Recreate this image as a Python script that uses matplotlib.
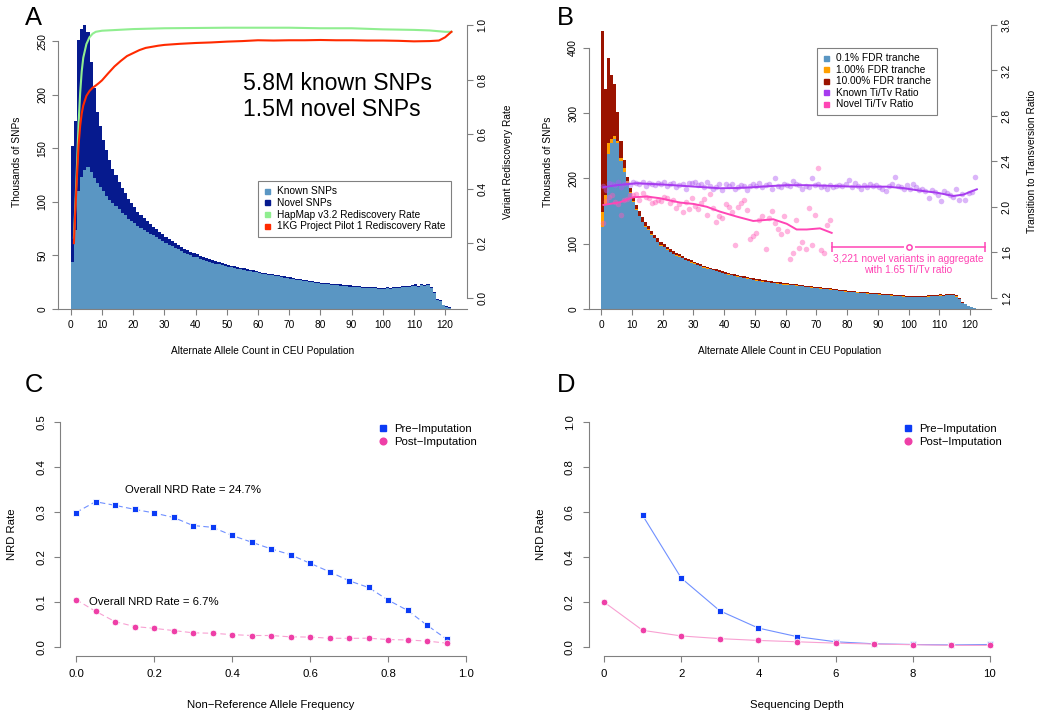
import numpy as np
import matplotlib
matplotlib.use("Agg")
import matplotlib.pyplot as plt
from matplotlib.lines import Line2D
from matplotlib.ticker import FormatStrFormatter

plt.rcParams["font.family"] = ["Liberation Sans", "DejaVu Sans"]

W, H = 1050, 719
GRAY = "#808080"

# ---- panel A: SNP counts per alternate allele count (thousands) ----
A_ALL = [152, 176, 251, 262, 265, 259, 231, 207, 184, 171,
         158, 149, 139, 131, 125, 119, 113, 108, 103, 99,
         95, 91, 88, 85, 82, 79, 77, 74.5, 72, 70,
         67.5, 65.5, 63.5, 61.5, 60, 58, 56.5, 55, 53.5, 52,
         51, 49.5, 48.5, 47.5, 46.5, 45.5, 44.5, 43.5, 43, 42,
         41, 40.5, 40, 39, 38.5, 38, 37, 36.5, 36, 35.5,
         35, 34, 33.5, 33, 32.5, 32, 31.5, 31, 30.5, 30,
         29.5, 29, 28.5, 28, 27.5, 27, 26.5, 26, 25.5, 25,
         24.7, 24.4, 24.1, 23.8, 23.5, 23.2, 22.9, 22.6, 22.3, 22,
         21.7, 21.5, 21.2, 21, 20.7, 20.5, 20.3, 20.4, 20, 19.8,
         19.9, 20.3, 19.8, 20.6, 20.8, 20.6, 21.3, 21.6, 21.9, 22.4,
         23, 21.8, 23.4, 22.5, 23.8, 20.5, 16, 9, 8, 4, 2.5, 1.5]
A_KNOWN = [44, 74, 110, 123, 130, 133, 128, 122, 118, 114,
           110, 106, 102, 99, 96, 93, 90, 87.5, 84.5, 82.5,
           80, 77.5, 76, 74, 72, 70, 68.7, 66.9, 65, 63.6,
           61.6, 60.1, 58.5, 56.9, 55.7, 54, 52.8, 51.6, 50.3, 49,
           48.2, 46.9, 46, 45.2, 44.3, 43.4, 42.5, 41.6, 41.2, 40.3,
           39.4, 38.9, 38.5, 37.5, 37.1, 36.6, 35.7, 35.2, 34.8, 34.3,
           33.8, 32.9, 32.4, 31.9, 31.4, 30.9, 30.4, 29.9, 29.4, 28.9,
           28.4, 27.9, 27.4, 26.9, 26.4, 25.9, 25.4, 24.9, 24.4, 23.9,
           23.6, 23.3, 23, 22.7, 22.4, 22.1, 21.8, 21.5, 21.2, 20.9,
           20.6, 20.4, 20.1, 19.9, 19.6, 19.4, 19.2, 19.3, 18.9, 18.7,
           18.8, 19.2, 18.7, 19.5, 19.7, 19.5, 20.2, 20.5, 20.8, 21.3,
           21.9, 20.7, 22.3, 21.4, 22.7, 19.4, 15, 8.2, 7.2, 3.5, 2.1, 1.2]

HAPMAP_X = [1, 1.5, 2, 2.5, 3, 3.5, 4, 5, 6, 7, 8, 10, 15, 20, 30, 40, 50,
            60, 70, 80, 90, 100, 110, 115, 120, 122]
HAPMAP_Y = [0.22, 0.35, 0.49, 0.64, 0.75, 0.83, 0.88, 0.93, 0.955, 0.968, 0.975,
            0.979, 0.982, 0.985, 0.988, 0.989, 0.99, 0.99, 0.99, 0.988, 0.988,
            0.984, 0.982, 0.98, 0.975, 0.975]
KG_X = [1, 1.5, 2, 2.5, 3, 3.5, 4, 5, 6, 7, 8, 9, 10, 11, 12, 14, 16, 18, 20,
        22, 24, 26, 28, 30, 35, 40, 45, 50, 55, 60, 65, 70, 75, 80, 85, 90, 95,
        100, 105, 110, 115, 118, 120, 122]
KG_Y = [0.2, 0.33, 0.45, 0.56, 0.63, 0.675, 0.705, 0.74, 0.758, 0.77, 0.778,
        0.787, 0.797, 0.81, 0.823, 0.848, 0.868, 0.886, 0.897, 0.908, 0.916,
        0.92, 0.924, 0.927, 0.931, 0.934, 0.936, 0.939, 0.941, 0.944, 0.943,
        0.944, 0.944, 0.945, 0.944, 0.944, 0.943, 0.943, 0.942, 0.94, 0.941,
        0.943, 0.955, 0.975]

# ---- panel B: FDR tranches (cumulative, thousands) and Ti/Tv ----
B_10 = [426, 337, 384, 359, 345, 302, 257, 228, 202, 185,
        172, 160, 150, 141, 134, 127, 120, 114, 108, 103,
        99, 95, 91.5, 88.5, 86, 83.5, 81, 78.5, 76.5, 74.5,
        72.5, 70.5, 68.5, 66.5, 65, 63.5, 62, 60.5, 59, 57.5,
        56, 55, 54, 53, 52, 51, 50, 49, 48, 47,
        46, 45.3, 44.6, 43.9, 43.2, 42.5, 41.8, 41.1, 40.6, 40,
        39.4, 38.8, 38.2, 37.6, 37, 36.4, 35.8, 35.2, 34.6, 34,
        33.5, 33, 32.5, 32, 31.5, 31, 30.5, 29.5, 29, 28.5,
        28, 27.5, 27.2, 26.8, 26.4, 26, 25.6, 25.2, 24.8, 24.4,
        24, 23.6, 23.2, 22.8, 22.4, 22, 21.6, 21.2, 20.8, 20.5,
        20.4, 20.3, 20.2, 20.5, 20.3, 20.6, 20.8, 21.2, 21.5, 21.8,
        22.5, 21.8, 23, 22.6, 23.2, 21, 16.5, 10, 8, 5, 3, 1.5]
B_1 = [149, 175, 254, 261, 265, 258, 232, 216, 196, 179,
       165, 153, 143, 134, 127, 122, 115, 109, 103, 98,
       95.2, 91.2, 87.7, 84.7, 82.2, 80.5, 78, 75.5, 73.5, 71.5,
       70, 68, 66, 64, 62.5, 61, 59.5, 58, 56.5, 55,
       54, 53, 52, 51, 50, 49, 48, 47, 46, 45,
       44, 43.3, 42.6, 41.9, 41.2, 40.5, 39.8, 39.1, 38.6, 38,
       37.9, 37.3, 36.7, 36.1, 35.5, 34.9, 34.3, 33.7, 33.1, 32.5,
       32, 31.5, 31, 30.5, 30, 29.5, 29, 28, 27.5, 27,
       26.5, 26, 25.7, 25.3, 24.9, 24.5, 24.1, 23.7, 23.3, 22.9,
       22.5, 22.1, 21.7, 21.3, 20.9, 20.5, 20.1, 19.7, 19.3, 19,
       18.9, 18.8, 18.7, 19, 18.8, 19.1, 19.3, 19.7, 20, 20.3,
       21, 20.3, 21.5, 21.1, 21.7, 19.5, 15.2, 9, 7.2, 4.4, 2.6, 1.2]
B_01 = [126, 160, 238, 254, 260, 254, 226, 210, 193, 177,
        164, 152, 142, 133, 126, 121, 114, 108, 102, 97,
        94.7, 90.7, 87.2, 84.2, 81.7, 80, 77.5, 75, 73, 71,
        69.5, 67.5, 65.5, 63.5, 62, 60.5, 59, 57.5, 56, 54.5,
        53.5, 52.5, 51.5, 50.5, 49.5, 48.5, 47.5, 46.5, 45.5, 44.5,
        43.5, 42.8, 42.1, 41.4, 40.7, 40, 39.3, 38.6, 38.1, 37.5,
        37.5, 36.9, 36.3, 35.7, 35.1, 34.5, 33.9, 33.3, 32.7, 32.1,
        31.6, 31.1, 30.6, 30.1, 29.6, 29.1, 28.6, 27.6, 27.1, 26.6,
        26.1, 25.6, 25.3, 24.9, 24.5, 24.1, 23.7, 23.3, 22.9, 22.5,
        22.1, 21.7, 21.3, 20.9, 20.5, 20.1, 19.7, 19.3, 18.9, 18.6,
        18.5, 18.4, 18.3, 18.6, 18.4, 18.7, 18.9, 19.3, 19.6, 19.9,
        20.6, 19.9, 21.1, 20.7, 21.3, 19.1, 14.9, 8.8, 7, 4.2, 2.5, 1.1]

KNOWN_TITV = [2.18, 2.15, 2.21, 2.20, 2.19, 2.22, 2.17, 2.20, 2.21, 2.19,
              2.22, 2.21, 2.20, 2.22, 2.18, 2.21, 2.20, 2.19, 2.21, 2.20,
              2.22, 2.18, 2.20, 2.21, 2.17, 2.19, 2.20, 2.16, 2.21, 2.21,
              2.22, 2.19, 2.20, 2.17, 2.22, 2.18, 2.16, 2.17, 2.20, 2.15,
              2.20, 2.18, 2.20, 2.16, 2.17, 2.19, 2.18, 2.15, 2.18, 2.20,
              2.18, 2.21, 2.17, 2.19, 2.20, 2.16, 2.25, 2.18, 2.17, 2.20,
              2.19, 2.18, 2.23, 2.20, 2.19, 2.16, 2.18, 2.17, 2.25, 2.19,
              2.20, 2.17, 2.18, 2.16, 2.19, 2.17, 2.18, 2.19, 2.18, 2.20,
              2.24, 2.17, 2.21, 2.18, 2.16, 2.19, 2.17, 2.20, 2.18, 2.19,
              2.17, 2.16, 2.14, 2.18, 2.20, 2.26, 2.18, 2.17, 2.16, 2.19,
              2.16, 2.20, 2.17, 2.15, 2.16, 2.14, 2.08, 2.15, 2.13, 2.10,
              2.05, 2.14, 2.12, 2.10, 2.09, 2.16, 2.06, 2.11, 2.06, 2.12, 2.13, 2.26]
NOVEL_TITV = [1.86, 2.05, 2.09, 2.10, 2.04, 2.02, 1.93, 2.06, 2.07, 2.10,
              2.10, 2.11, 2.06, 2.12, 2.09, 2.08, 2.03, 2.04, 2.06, 2.05,
              2.09, 2.08, 2.03, 2.06, 1.99, 2.02, 1.95, 2.04, 1.98, 2.08,
              2.01, 1.98, 2.03, 2.07, 1.93, 2.11, 1.99, 1.87, 1.92, 1.90,
              2.02, 2.00, 1.95, 1.66, 2.00, 2.03, 2.06, 1.97, 1.72, 1.74,
              1.77, 1.88, 1.92, 1.63, 1.90, 1.96, 1.86, 1.80, 1.76, 1.92,
              1.79, 1.54, 1.59, 1.88, 1.64, 1.69, 1.63, 1.99, 1.66, 1.93,
              2.34, 1.62, 1.59, 1.84, 1.88]
KNOWN_FIT_X = [0.8, 5, 11.6, 17, 22.4, 30, 38.7, 44, 49.5, 55, 60.4, 66, 71.2,
               77, 82.1, 88, 92.9, 98, 103.7, 109.2, 114.6, 117.8, 122.2]
KNOWN_FIT_Y = [2.172, 2.19, 2.207, 2.20, 2.192, 2.178, 2.163, 2.165, 2.172, 2.182,
               2.19, 2.19, 2.187, 2.182, 2.177, 2.177, 2.177, 2.165, 2.142, 2.124,
               2.095, 2.107, 2.154]
NOVEL_FIT_X = [0.8, 6.2, 10.5, 14.9, 19.2, 25.7, 30.1, 34.4, 38.7, 44.2, 49.5,
               53.9, 56, 60.4, 63.6, 66.9, 71.2, 75]
NOVEL_FIT_Y = [2.016, 2.04, 2.084, 2.09, 2.075, 2.037, 2.025, 2.0, 1.957, 1.913,
               1.875, 1.885, 1.89, 1.85, 1.80, 1.80, 1.81, 1.77]
AGG_RANGE = [75, 125]
AGG_TITV = 1.65

# ---- panels C, D: NRD rates ----
AF = [0.0, 0.05, 0.1, 0.15, 0.2, 0.25, 0.3, 0.35, 0.4, 0.45,
      0.5, 0.55, 0.6, 0.65, 0.7, 0.75, 0.8, 0.85, 0.9, 0.95]
C_PRE = [0.299, 0.323, 0.315, 0.306, 0.298, 0.288, 0.270, 0.266, 0.248, 0.233,
         0.218, 0.205, 0.186, 0.167, 0.147, 0.132, 0.104, 0.081, 0.048, 0.017]
C_POST = [0.105, 0.079, 0.056, 0.045, 0.041, 0.036, 0.031, 0.030, 0.027, 0.025,
          0.025, 0.022, 0.0215, 0.019, 0.0186, 0.019, 0.016, 0.015, 0.0126, 0.008]
DEPTH_PRE = [1, 2, 3, 4, 5, 6, 7, 8, 9, 10]
D_PRE = [0.585, 0.306, 0.160, 0.083, 0.045, 0.022, 0.013, 0.010, 0.008, 0.010]
DEPTH_POST = [0, 1, 2, 3, 4, 5, 6, 7, 8, 9, 10]
D_POST = [0.199, 0.073, 0.048, 0.036, 0.028, 0.022, 0.016, 0.012, 0.009, 0.006, 0.006]

COUNTS = np.arange(0, len(A_ALL) + 1)

fig = plt.figure(figsize=(W / 100, H / 100), dpi=100)


def place(x0, y0, x1, y1):
    return fig.add_axes([x0 / W, 1 - y1 / H, (x1 - x0) / W, (y1 - y0) / H])


def style(ax, fs, pad, spines):
    for s in ax.spines.values():
        s.set_visible(False)
    for side, bounds in spines.items():
        sp = ax.spines[side]
        sp.set_visible(True)
        sp.set_color(GRAY)
        sp.set_linewidth(0.8)
        if bounds is not None:
            sp.set_bounds(*bounds)
    ax.tick_params(length=4.3, width=0.8, color=GRAY, labelsize=fs, pad=pad)
    plt.setp(ax.get_yticklabels(), rotation=90, va="center")


def label_at(ax, xtext, xc, xy, ytext, yc, yx, fs):
    ax.set_xlabel(xtext, fontsize=fs, va="center", ha="center")
    ax.xaxis.set_label_coords(xc / W, 1 - xy / H, transform=fig.transFigure)
    ax.set_ylabel(ytext, fontsize=fs, va="center", ha="center", rotation=90)
    ax.yaxis.set_label_coords(yx / W, 1 - yc / H, transform=fig.transFigure)


def legend(ax, handles, labels, x, y, fs, frame=True, bp=0.6, ls=0.14):
    lg = ax.legend(handles, labels, loc="upper left", bbox_to_anchor=(x / W, 1 - y / H),
                   bbox_transform=fig.transFigure, borderaxespad=0, fontsize=fs,
                   frameon=frame, fancybox=False, borderpad=bp, handlelength=0.8,
                   handletextpad=0.55, labelspacing=ls)
    if frame:
        lg.get_frame().set_edgecolor(GRAY)
        lg.get_frame().set_linewidth(0.8)
        lg.get_frame().set_alpha(1)
    return lg


def sq(color, marker="s", ms=3.6):
    return Line2D([], [], ls="none", marker=marker, color=color, ms=ms)


FS1 = 7.3
FS2 = 8.2

# ================= A =================
ax = place(58, 14, 466.7, 309)
ax.stairs(A_ALL, COUNTS, fill=True, color="#061a8e", lw=0)
ax.stairs(A_KNOWN, COUNTS, fill=True, color="#5a96c3", lw=0)
ax.set_xlim(-4.1, 126.9)
ax.set_ylim(0, 275.7)
ax.set_xticks(range(0, 121, 10))
ax.set_yticks(range(0, 251, 50))
style(ax, FS1, 3.5, {"left": (0, 250), "bottom": None})
ax.text(55.2, 211, "5.8M known SNPs", fontsize=16.6, va="center", ha="left")
ax.text(55.2, 186, "1.5M novel SNPs", fontsize=16.6, va="center", ha="left")
label_at(ax, "Alternate Allele Count in CEU Population", 262.3, 350.7,
         "Thousands of SNPs", 161.5, 17, FS1)

ax2 = ax.twinx()
ax2.plot(HAPMAP_X, HAPMAP_Y, color="#90ee90", lw=1.5)
ax2.plot(KG_X, KG_Y, color="#ff2a00", lw=1.5)
ax2.set_ylim(-0.0414, 1.0403)
ax2.set_yticks(np.arange(0, 1.01, 0.2))
ax2.yaxis.set_major_formatter(FormatStrFormatter("%.1f"))
style(ax2, FS1, 3.5, {"right": (0, 1)})
ax2.set_ylabel("Variant Rediscovery Rate", fontsize=FS1, va="center", ha="center", rotation=90)
ax2.yaxis.set_label_coords(508 / W, 1 - 161.5 / H, transform=fig.transFigure)
legend(ax2, [sq("#5a96c3"), sq("#061a8e"), sq("#90ee90"), sq("#ff2a00")],
       ["Known SNPs", "Novel SNPs", "HapMap v3.2 Rediscovery Rate",
        "1KG Project Pilot 1 Rediscovery Rate"], 257.7, 180.7, FS1, bp=0.55, ls=0.17)

# ================= B =================
bx = place(589, 14, 991, 309)
bx.stairs(B_10, COUNTS, fill=True, color="#9b1300", lw=0)
bx.stairs(B_1, COUNTS, fill=True, color="#ffa000", lw=0)
bx.stairs(B_01, COUNTS, fill=True, color="#5a96c3", lw=0)
bx.set_xlim(-3.9, 126.8)
bx.set_ylim(0, 451.8)
bx.set_xticks(range(0, 121, 10))
bx.set_yticks(range(0, 401, 100))
style(bx, FS1, 3.5, {"left": (0, 400), "bottom": None})
label_at(bx, "Alternate Allele Count in CEU Population", 790, 350.7,
         "Thousands of SNPs", 161.5, 548.3, FS1)

bx2 = bx.twinx()
known_x = np.arange(1, len(KNOWN_TITV) + 1) - 0.5
novel_x = np.arange(1, len(NOVEL_TITV) + 1) - 0.5
bx2.plot(known_x, KNOWN_TITV, "o", color="#b05cf2", alpha=0.45, ms=4, mew=0)
bx2.plot(novel_x, NOVEL_TITV, "o", color="#ff5ab8", alpha=0.45, ms=4, mew=0)
bx2.plot(KNOWN_FIT_X, KNOWN_FIT_Y, color="#a63bef", lw=1.4)
bx2.plot(NOVEL_FIT_X, NOVEL_FIT_Y, color="#ff45b5", lw=1.4)
PINK = "#ff45b5"
bx2.plot(AGG_RANGE, [AGG_TITV] * 2, color=PINK, lw=1.1)
bx2.plot(AGG_RANGE, [AGG_TITV] * 2, ls="none", marker="|", ms=7, mew=1.1, color=PINK)
mid = np.mean(AGG_RANGE)
bx2.plot([mid], [AGG_TITV], "o", ms=7, mfc="white", mec="white")
bx2.plot([mid], [AGG_TITV], "o", ms=3.8, mfc="white", mec=PINK, mew=1.1)
bx2.text(mid, 1.54, "3,221 novel variants in aggregate", color=PINK, fontsize=FS1,
         ha="center", va="center")
bx2.text(mid, 1.44, "with 1.65 Ti/Tv ratio", color=PINK, fontsize=FS1,
         ha="center", va="center")
bx2.set_ylim(1.1, 3.697)
bx2.set_yticks(np.arange(1.2, 3.61, 0.4))
bx2.yaxis.set_major_formatter(FormatStrFormatter("%.1f"))
style(bx2, FS1, 3.5, {"right": (1.2, 3.6)})
bx2.set_ylabel("Transition to Transversion Ratio", fontsize=FS1, va="center",
               ha="center", rotation=90)
bx2.yaxis.set_label_coords(1031.7 / W, 1 - 161.5 / H, transform=fig.transFigure)
legend(bx2, [sq("#5a96c3"), sq("#ffa000"), sq("#9b1300"), sq("#a63bef"), sq(PINK)],
       ["0.1% FDR tranche", "1.00% FDR tranche", "10.00% FDR tranche",
        "Known Ti/Tv Ratio", "Novel Ti/Tv Ratio"], 816.7, 47.7, FS1, bp=0.55, ls=0.15)

# ================= C =================
BLUE, BLUE_L = "#0b3bf5", "#7090ff"
PNK, PNK_L = "#ee3fa7", "#f8a0d2"
cx = place(60.4, 413.3, 481.6, 655.7)
cx.plot(AF, C_PRE, color=BLUE_L, lw=0.8, dashes=(5, 3), zorder=2)
cx.plot(AF, C_POST, color=PNK_L, lw=0.8, dashes=(5, 3), zorder=2)
cx.plot(AF, C_PRE, "s", color=BLUE, ms=4.6, mec="white", mew=0.6, zorder=3)
cx.plot(AF, C_POST, "o", color=PNK, ms=4.8, mec="white", mew=0.6, zorder=3)
cx.set_xlim(-0.04, 1.04)
cx.set_ylim(-0.02, 0.52)
cx.set_xticks(np.arange(0, 1.01, 0.2))
cx.set_yticks(np.arange(0, 0.51, 0.1))
cx.xaxis.set_major_formatter(FormatStrFormatter("%.1f"))
cx.yaxis.set_major_formatter(FormatStrFormatter("%.1f"))
style(cx, FS2, 5.5, {"left": (0, 0.5), "bottom": (0, 1)})
cx.text(0.30, 0.349, "Overall NRD Rate = 24.7%", fontsize=FS2, ha="center", va="center")
cx.text(0.20, 0.099, "Overall NRD Rate = 6.7%", fontsize=FS2, ha="center", va="center")
label_at(cx, "Non\u2212Reference Allele Frequency", 271, 705, "NRD Rate", 534.5, 11.7, FS2)
legend(cx, [sq(BLUE, "s", 4.6), sq(PNK, "o", 4.8)],
       ["Pre\u2212Imputation", "Post\u2212Imputation"], 378.8, 423.5, FS2,
       frame=False, bp=0, ls=0.33)

# ================= D =================
dx = place(588.6, 413.3, 1005.4, 655.7)
dx.plot(DEPTH_PRE, D_PRE, color=BLUE_L, lw=0.8, zorder=2)
dx.plot(DEPTH_POST, D_POST, color=PNK_L, lw=0.8, zorder=2)
dx.plot(DEPTH_PRE, D_PRE, "s", color=BLUE, ms=4.6, mec="white", mew=0.6, zorder=3)
dx.plot(DEPTH_POST, D_POST, "o", color=PNK, ms=4.8, mec="white", mew=0.6, zorder=3)
dx.set_xlim(-0.4, 10.4)
dx.set_ylim(-0.04, 1.04)
dx.set_xticks(range(0, 11, 2))
dx.set_yticks(np.arange(0, 1.01, 0.2))
dx.yaxis.set_major_formatter(FormatStrFormatter("%.1f"))
style(dx, FS2, 5.5, {"left": (0, 1), "bottom": (0, 10)})
label_at(dx, "Sequencing Depth", 797, 705, "NRD Rate", 534.5, 540.7, FS2)
legend(dx, [sq(BLUE, "s", 4.6), sq(PNK, "o", 4.8)],
       ["Pre\u2212Imputation", "Post\u2212Imputation"], 903.7, 423.5, FS2,
       frame=False, bp=0, ls=0.33)

# panel letters
for letter, x, y in [("A", 25, 25), ("B", 556.7, 25), ("C", 25, 392), ("D", 556.7, 392)]:
    fig.text(x / W, 1 - y / H, letter, fontsize=18.4, ha="left", va="baseline")

fig.savefig("out.png", dpi=100)
